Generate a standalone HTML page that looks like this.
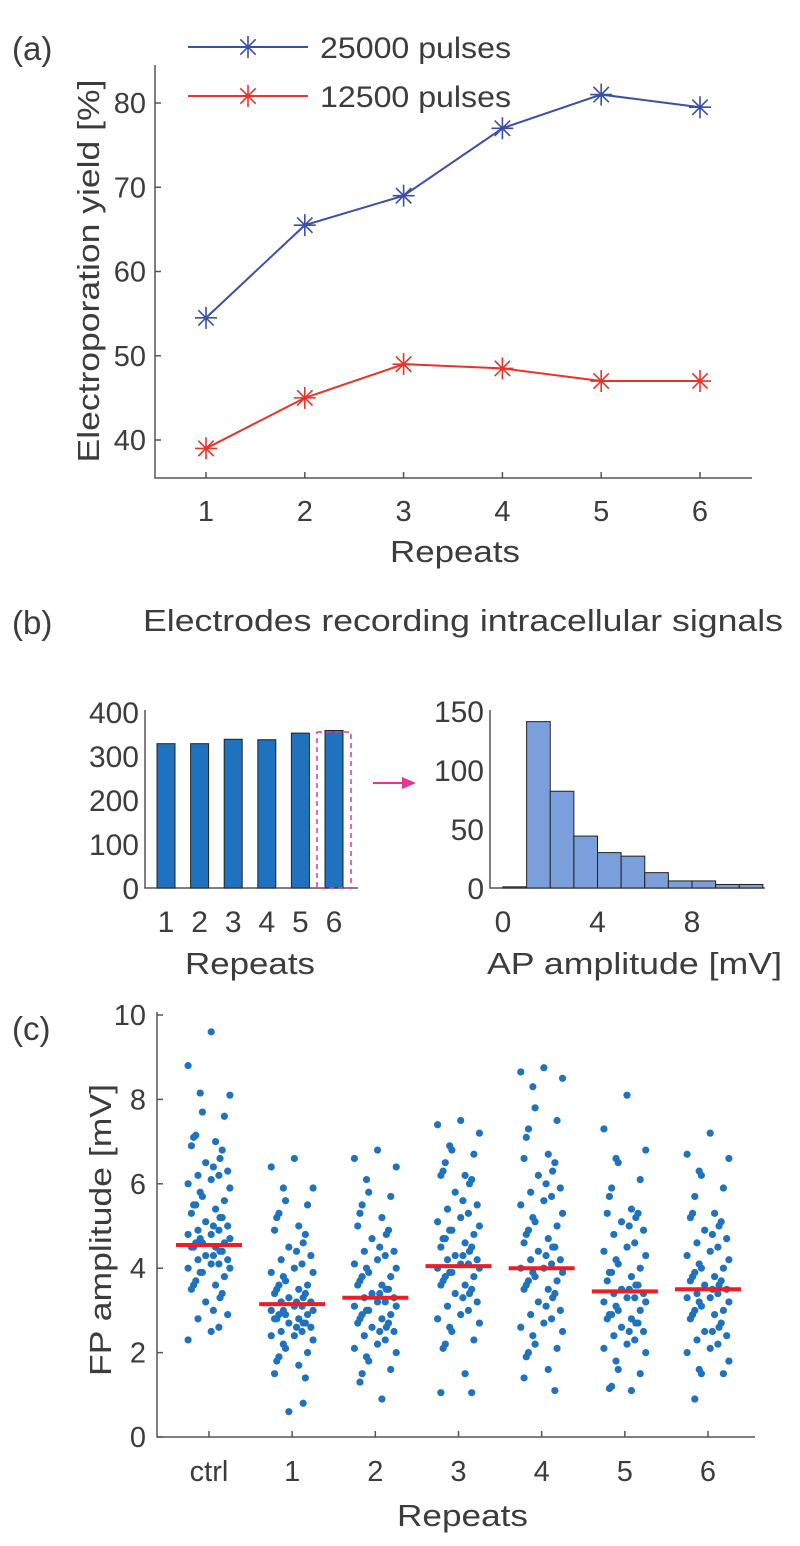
<!DOCTYPE html>
<html><head><meta charset="utf-8"><style>
html,body{margin:0;padding:0;background:#fff;}
svg{display:block;font-family:"Liberation Sans",Arial,sans-serif;}
text{fill:#3c3c3c;}
</style></head><body>
<svg id="fig" width="800" height="1546" viewBox="0 0 800 1546">
<g id="pa"></g>
<g id="pb1"></g>
<g id="pb2"></g>
<g id="pc"></g>
</svg>
<script>
// ---- Panel (a) data
const repeatsA = [1,2,3,4,5,6];
const yield25000 = [54.5,65.5,69,77,81,79.5];
const yield12500 = [39,45,49,48.5,47,47];
const ticksAY = [40,50,60,70,80];
// ---- Panel (b) data
const repeatsB = [1,2,3,4,5,6];
const electrodeCounts = [328,328,338,337,352,358];
const ticksBY = [0,100,200,300,400];
const histEdges = [0,1,2,3,4,5,6,7,8,9,10,11];
const histCounts = [1,141,82,44,30,27,13,6,6,3,3];
const ticksHY = [0,50,100,150];
const ticksHX = [0,4,8];
// ---- Panel (c) data
const groupsC = ["ctrl","1","2","3","4","5","6"];
const mediansC = [4.55,3.15,3.3,4.05,4.0,3.45,3.5];
const ticksCY = [0,2,4,6,8,10];
const ptsCtrl = [9.6,8.8,8.1,8.15,7.7,7.6,7.15,7.1,7.0,6.9,6.8,6.6,6.5,6.4,6.3,6.2,6.2,6.1,6.0,5.9,5.8,5.7,5.6,5.5,5.5,5.4,5.3,5.2,5.2,5.1,5.0,5.0,4.9,4.9,4.8,4.8,4.7,4.7,4.6,4.6,4.6,4.5,4.5,4.5,4.4,4.4,4.3,4.3,4.2,4.2,4.1,4.1,4.0,4.0,3.9,3.9,3.8,3.7,3.6,3.6,3.5,3.4,3.3,3.2,3.0,2.9,2.8,2.6,2.5,2.3];
const ptsR1 = [6.6,6.4,5.9,5.9,5.6,5.5,5.3,5.2,5.0,4.9,4.8,4.6,4.5,4.4,4.3,4.2,4.1,4.0,3.9,3.9,3.8,3.7,3.6,3.6,3.5,3.5,3.4,3.4,3.3,3.3,3.2,3.2,3.2,3.1,3.1,3.0,3.0,3.0,2.9,2.9,2.9,2.8,2.8,2.8,2.7,2.7,2.7,2.6,2.6,2.5,2.5,2.4,2.4,2.3,2.2,2.1,2.0,1.9,1.8,1.7,1.5,1.4,0.8,0.6];
const ptsR2 = [6.8,6.6,6.4,6.1,5.8,5.7,5.5,5.3,5.2,5.0,4.9,4.8,4.7,4.5,4.4,4.4,4.3,4.2,4.1,4.0,4.0,3.9,3.8,3.8,3.7,3.6,3.6,3.5,3.5,3.4,3.4,3.3,3.3,3.2,3.2,3.1,3.1,3.0,3.0,2.9,2.9,2.8,2.8,2.7,2.7,2.6,2.6,2.5,2.5,2.4,2.3,2.2,2.1,2.0,1.9,1.8,1.6,1.5,1.3,0.9];
const ptsR3 = [7.5,7.4,7.2,6.9,6.8,6.7,6.5,6.3,6.2,6.2,6.1,6.0,5.8,5.6,5.5,5.4,5.3,5.2,5.1,5.0,4.9,4.9,4.8,4.7,4.7,4.6,4.5,4.5,4.4,4.3,4.3,4.2,4.2,4.1,4.1,4.0,4.0,3.9,3.9,3.8,3.8,3.7,3.6,3.6,3.5,3.4,3.4,3.3,3.2,3.1,3.0,2.9,2.8,2.7,2.6,2.5,2.3,2.2,2.1,1.5,1.05,1.05];
const ptsR4 = [8.75,8.65,8.5,8.3,7.8,7.5,7.3,7.1,6.7,6.6,6.5,6.3,6.2,6.0,5.9,5.8,5.7,5.6,5.5,5.3,5.2,5.1,5.0,4.9,4.8,4.7,4.6,4.5,4.5,4.4,4.3,4.2,4.2,4.1,4.0,4.0,3.9,3.9,3.8,3.7,3.7,3.6,3.5,3.5,3.4,3.3,3.2,3.1,3.0,2.9,2.8,2.7,2.6,2.5,2.4,2.2,2.1,2.0,1.9,1.6,1.4,1.1];
const ptsR5 = [8.1,7.3,6.8,6.6,6.5,6.1,5.9,5.7,5.4,5.3,5.3,5.2,5.1,5.0,4.9,4.8,4.6,4.5,4.4,4.3,4.2,4.1,4.0,3.9,3.9,3.8,3.7,3.6,3.6,3.5,3.5,3.4,3.4,3.3,3.3,3.2,3.2,3.1,3.0,3.0,2.9,2.9,2.8,2.8,2.7,2.7,2.6,2.5,2.5,2.4,2.3,2.2,2.1,2.0,1.8,1.6,1.5,1.2,1.15,1.1];
const ptsR6 = [7.2,6.7,6.6,6.3,6.2,5.9,5.7,5.3,5.3,5.2,5.1,5.0,4.9,4.8,4.7,4.6,4.5,4.4,4.3,4.2,4.1,4.0,4.0,3.9,3.8,3.8,3.7,3.7,3.6,3.6,3.5,3.5,3.4,3.4,3.3,3.3,3.2,3.2,3.1,3.0,3.0,2.9,2.9,2.8,2.7,2.6,2.5,2.5,2.4,2.3,2.2,2.1,2.0,1.8,1.6,1.5,1.5,0.9];
const pointsC = [ptsCtrl,ptsR1,ptsR2,ptsR3,ptsR4,ptsR5,ptsR6];

const NS="http://www.w3.org/2000/svg";
function mk(parent,tag,attrs,txt){const e=document.createElementNS(NS,tag);for(const k in attrs)e.setAttribute(k,attrs[k]);if(txt!==undefined)e.textContent=txt;parent.appendChild(e);return e;}
const AX="#555";
const TF=29;

// ===== Panel (a)
const pa=document.getElementById('pa');
const axX=v=>206+(v-1)*(700-206)/5;
const axY=v=>440-(v-40)*(440-103)/40;
let t;
t=mk(pa,'text',{x:12,y:60,'font-size':33},'(a)');

let ln=mk(pa,'path',{d:'M155,65 L155,478 L752,478',stroke:AX,'stroke-width':1.5,fill:'none'});

ticksAY.forEach(v=>{mk(pa,'line',{x1:155,x2:161,y1:axY(v),y2:axY(v),stroke:AX,'stroke-width':1.5});
 const e=mk(pa,'text',{x:146,y:axY(v)+10,'font-size':TF,'text-anchor':'end'},String(v));
 });
repeatsA.forEach(v=>{mk(pa,'line',{x1:axX(v),x2:axX(v),y1:478,y2:472,stroke:AX,'stroke-width':1.5});
 const e=mk(pa,'text',{x:axX(v),y:521,'font-size':TF,'text-anchor':'middle'},String(v));
 });
t=mk(pa,'text',{x:390,y:562,'font-size':31,textLength:130,lengthAdjust:'spacingAndGlyphs'},'Repeats');

t=mk(pa,'text',{x:0,y:0,'font-size':31,'text-anchor':'middle',textLength:383,lengthAdjust:'spacingAndGlyphs',transform:'translate(99,271) rotate(-90)'},'Electroporation yield [%]');

function star(g,x,y,c){const r=11;const d=`M${x-r},${y}L${x+r},${y}M${x},${y-r}L${x},${y+r}M${x-r*0.7},${y-r*0.7}L${x+r*0.7},${y+r*0.7}M${x-r*0.7},${y+r*0.7}L${x+r*0.7},${y-r*0.7}`;return mk(g,'path',{d,stroke:c,'stroke-width':1.6,fill:'none'});}
[[yield25000,'#3b4fa8','series-25000-pulses'],[yield12500,'#e8332a','series-12500-pulses']].forEach(([arr,c,n])=>{
 const p=mk(pa,'polyline',{points:arr.map((v,i)=>axX(repeatsA[i])+','+axY(v)).join(' '),stroke:c,'stroke-width':2,fill:'none'});
 
 arr.forEach((v,i)=>{const s=star(pa,axX(repeatsA[i]),axY(v),c);});
});
[[47,'#3b4fa8','25000 pulses'],[96,'#e8332a','12500 pulses']].forEach(([y,c,lab])=>{
 const g=mk(pa,'g',{});
 mk(g,'line',{x1:188,x2:308,y1:y,y2:y,stroke:c,'stroke-width':2});star(g,248,y,c);
 mk(g,'text',{x:320,y:y+11,'font-size':30,textLength:191,lengthAdjust:'spacingAndGlyphs'},lab);
});

// ===== Panel (b) bar chart
const pb1=document.getElementById('pb1');
t=mk(pb1,'text',{x:12,y:634,'font-size':33},'(b)');

t=mk(pb1,'text',{x:143,y:631,'font-size':31,textLength:640,lengthAdjust:'spacingAndGlyphs'},'Electrodes recording intracellular signals');

const bX=v=>166+(v-1)*(334-166)/5;
const bY=v=>888-v*(888-712)/400;
ln=mk(pb1,'path',{d:'M145,710 L145,888 L358,888',stroke:AX,'stroke-width':1.5,fill:'none'});

ticksBY.forEach(v=>{const e=mk(pb1,'text',{x:139,y:bY(v)+11,'font-size':TF+1,'text-anchor':'end'},String(v));
 });
electrodeCounts.forEach((v,i)=>{const r=mk(pb1,'rect',{x:bX(repeatsB[i])-9,y:bY(v),width:18,height:888-bY(v),fill:'#1f72bd',stroke:'#222','stroke-width':1});
 
 const e=mk(pb1,'text',{x:bX(repeatsB[i]),y:932,'font-size':TF+1,'text-anchor':'middle'},String(repeatsB[i]));
 });
t=mk(pb1,'text',{x:185,y:974,'font-size':31,textLength:130,lengthAdjust:'spacingAndGlyphs'},'Repeats');

let hb=mk(pb1,'rect',{x:317,y:732,width:34,height:156,fill:'none',stroke:'#e8338f','stroke-width':1.5,'stroke-dasharray':'5,4'});

let ar=mk(pb1,'g',{});
mk(ar,'line',{x1:373,x2:405,y1:783,y2:783,stroke:'#e8338f','stroke-width':2});
mk(ar,'path',{d:'M416,783 L402,777 L402,789 Z',fill:'#e8338f'});

// ===== Panel (b) histogram
const pb2=document.getElementById('pb2');
const hX=v=>503+v*(692-503)/8;
const hY=v=>888-v*(888-711)/150;
ln=mk(pb2,'path',{d:'M490,710 L490,888 L765,888',stroke:AX,'stroke-width':1.5,fill:'none'});

ticksHY.forEach(v=>{const e=mk(pb2,'text',{x:484,y:hY(v)+11,'font-size':TF+1,'text-anchor':'end'},String(v));
 });
ticksHX.forEach(v=>{const e=mk(pb2,'text',{x:hX(v),y:932,'font-size':TF+1,'text-anchor':'middle'},String(v));
 });
histCounts.forEach((c,i)=>{const r=mk(pb2,'rect',{x:hX(histEdges[i]),y:hY(c),width:hX(histEdges[i+1])-hX(histEdges[i]),height:888-hY(c),fill:'#7b9fdb',stroke:'#222','stroke-width':1});
 });
t=mk(pb2,'text',{x:487,y:974,'font-size':31,textLength:295,lengthAdjust:'spacingAndGlyphs'},'AP amplitude [mV]');


// ===== Panel (c)
const pc=document.getElementById('pc');
t=mk(pc,'text',{x:12,y:1040,'font-size':33},'(c)');

const cX=i=>209+i*(708-209)/6;
const cY=v=>1437-v*(1437-1015)/10;
ln=mk(pc,'path',{d:'M157,1012 L157,1437 L755,1437',stroke:AX,'stroke-width':1.5,fill:'none'});

ticksCY.forEach(v=>{mk(pc,'line',{x1:157,x2:163,y1:cY(v),y2:cY(v),stroke:AX,'stroke-width':1.5});
 const e=mk(pc,'text',{x:146,y:cY(v)+10,'font-size':TF,'text-anchor':'end'},String(v));
 });
const JIT=[0.1,-0.7,0.85,-0.3,0.5,-0.95,0.3,-0.5,0.7,-0.15,0.95,-0.8,0.45,-0.6,0.2,-0.4,0.6];
groupsC.forEach((gname,i)=>{
 mk(pc,'line',{x1:cX(i),x2:cX(i),y1:1437,y2:1431,stroke:AX,'stroke-width':1.5});
 const e=mk(pc,'text',{x:cX(i),y:1481,'font-size':TF,'text-anchor':'middle'},gname);
 
 const g=mk(pc,'g',{fill:'#1f72bd'});
 
 pointsC[i].forEach((v,j)=>{mk(g,'circle',{cx:cX(i)+JIT[(j*5)%JIT.length]*22,cy:cY(v),r:3.6});});
 const m=mk(pc,'line',{x1:cX(i)-33,x2:cX(i)+33,y1:cY(mediansC[i]),y2:cY(mediansC[i]),stroke:'#ee1c24','stroke-width':4});
 
});
t=mk(pc,'text',{x:397,y:1526,'font-size':31,textLength:131,lengthAdjust:'spacingAndGlyphs'},'Repeats');

t=mk(pc,'text',{x:0,y:0,'font-size':31,'text-anchor':'middle',textLength:292,lengthAdjust:'spacingAndGlyphs',transform:'translate(111,1230) rotate(-90)'},'FP amplitude [mV]');

</script>
</body></html>
